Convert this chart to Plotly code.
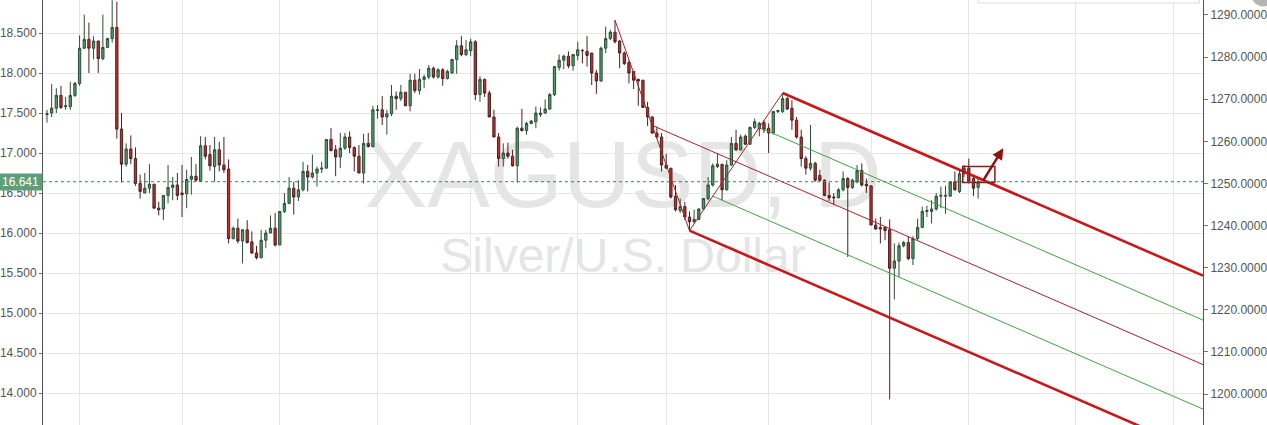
import plotly.graph_objects as go

# ---------------- data (XAGUSD daily candles) ----------------
opens = [17.48, 17.50, 17.56, 17.72, 17.58, 17.58, 17.72, 17.87, 18.31, 18.42,
         18.31, 18.40, 18.18, 18.32, 18.43, 18.57, 17.30, 16.86, 17.05, 16.93,
         16.62, 16.50, 16.56, 16.61, 16.31, 16.30, 16.47, 16.57, 16.60, 16.50,
         16.49, 16.67, 16.71, 16.65, 17.09, 16.98, 16.83, 17.04, 16.85, 16.80,
         15.93, 16.06, 15.90, 16.04, 15.89, 15.75, 15.69, 15.91, 16.00, 16.06,
         15.85, 16.27, 16.37, 16.56, 16.45, 16.54, 16.77, 16.70, 16.75, 16.80,
         16.81, 17.17, 17.04, 16.95, 17.06, 17.20, 17.07, 16.96, 16.75, 17.12,
         17.08, 17.53, 17.54, 17.45, 17.49, 17.71, 17.68, 17.76, 17.59, 17.91,
         17.78, 17.92, 17.95, 18.06, 17.95, 18.04, 17.93, 18.00, 18.17, 18.34,
         18.23, 18.28, 18.39, 17.73, 17.92, 17.75, 17.45, 17.20, 16.93, 17.00,
         16.96, 16.84, 17.31, 17.28, 17.37, 17.39, 17.48, 17.50, 17.55, 17.73,
         18.07, 18.16, 18.21, 18.09, 18.22, 18.28, 18.27, 18.25, 18.00, 17.90,
         18.31, 18.43, 18.51, 18.40, 18.25, 18.13, 18.02, 17.92, 17.91, 17.57,
         17.45, 17.25, 17.20, 16.85, 16.81, 16.46, 16.28, 16.33, 16.20, 16.14,
         16.17, 16.30, 16.43, 16.60, 16.83, 16.86, 16.54, 16.85, 17.12, 17.04,
         17.21, 17.11, 17.32, 17.30, 17.38, 17.31, 17.25, 17.52, 17.52, 17.68,
         17.56, 17.41, 17.20, 16.93, 16.81, 16.87, 16.72, 16.66, 16.47, 16.45,
         16.44, 16.54, 16.68, 16.57, 16.64, 16.78, 16.61, 16.59, 16.10, 16.07,
         16.07, 16.04, 15.56, 15.65, 15.84, 15.88, 15.68, 15.93, 16.07, 16.27,
         16.27, 16.30, 16.46, 16.46, 16.46, 16.64, 16.52, 16.74, 16.81, 16.68,
         16.57]
highs = [17.54, 17.86, 17.81, 17.84, 17.70, 17.89, 17.89, 18.47, 18.73, 18.63,
         18.46, 18.40, 18.73, 18.44, 18.91, 18.89, 17.50, 17.12, 17.22, 17.07,
         16.73, 16.75, 16.86, 16.61, 16.39, 16.47, 16.85, 16.70, 16.75, 16.85,
         16.79, 16.95, 16.86, 17.21, 17.20, 17.10, 17.20, 17.14, 17.20, 16.92,
         16.08, 16.18, 16.04, 16.16, 16.02, 15.84, 16.04, 16.04, 16.22, 16.25,
         16.27, 16.50, 16.70, 16.64, 16.66, 16.89, 16.85, 16.98, 16.83, 16.89,
         17.17, 17.31, 17.10, 17.25, 17.25, 17.27, 17.08, 17.10, 17.24, 17.25,
         17.59, 17.60, 17.71, 17.54, 17.85, 17.77, 17.85, 17.76, 17.99, 17.99,
         18.05, 17.98, 18.10, 18.08, 18.06, 18.06, 18.04, 18.17, 18.41, 18.46,
         18.41, 18.43, 18.41, 17.96, 17.93, 17.78, 17.54, 17.25, 17.12, 17.13,
         17.04, 17.33, 17.55, 17.39, 17.41, 17.58, 17.57, 17.67, 17.75, 18.08,
         18.23, 18.23, 18.27, 18.23, 18.39, 18.30, 18.46, 18.25, 18.04, 18.33,
         18.58, 18.54, 18.66, 18.41, 18.27, 18.16, 18.02, 17.93, 17.91, 17.64,
         17.46, 17.33, 17.25, 16.99, 16.81, 16.60, 16.43, 16.39, 16.27, 16.29,
         16.31, 16.43, 16.70, 16.87, 17.00, 16.86, 16.91, 17.20, 17.29, 17.23,
         17.23, 17.33, 17.43, 17.39, 17.41, 17.37, 17.52, 17.54, 17.75, 17.70,
         17.66, 17.45, 17.29, 16.96, 17.35, 16.89, 16.79, 16.67, 16.63, 16.50,
         16.56, 16.77, 16.70, 16.68, 16.85, 16.87, 16.68, 16.59, 16.18, 16.20,
         16.08, 16.17, 15.87, 15.88, 15.90, 15.96, 15.96, 16.18, 16.33, 16.34,
         16.41, 16.50, 16.58, 16.59, 16.64, 16.77, 16.80, 16.85, 16.93, 16.70,
         16.68]
lows = [17.38, 17.45, 17.50, 17.55, 17.54, 17.54, 17.70, 17.84, 18.30, 18.00,
        18.17, 18.00, 18.16, 18.32, 18.38, 17.18, 16.63, 16.83, 16.86, 16.59,
        16.43, 16.50, 16.50, 16.31, 16.22, 16.16, 16.37, 16.41, 16.41, 16.20,
        16.31, 16.48, 16.64, 16.64, 16.92, 16.78, 16.64, 16.77, 16.75, 15.87,
        15.92, 15.87, 15.62, 15.87, 15.74, 15.67, 15.69, 15.81, 16.00, 15.83,
        15.85, 16.25, 16.36, 16.23, 16.40, 16.52, 16.52, 16.68, 16.58, 16.75,
        16.81, 17.02, 16.71, 16.81, 17.04, 17.00, 16.77, 16.75, 16.62, 17.07,
        17.07, 17.43, 17.35, 17.23, 17.46, 17.54, 17.65, 17.59, 17.52, 17.75,
        17.73, 17.81, 17.92, 17.93, 17.93, 17.84, 17.92, 17.99, 17.99, 18.21,
        18.21, 18.21, 17.66, 17.64, 17.70, 17.45, 17.20, 16.83, 16.83, 16.93,
        16.83, 16.63, 17.27, 17.23, 17.36, 17.31, 17.45, 17.49, 17.54, 17.71,
        18.03, 18.05, 18.06, 18.03, 18.16, 18.12, 18.08, 17.85, 17.74, 17.89,
        18.25, 18.41, 18.37, 18.06, 18.10, 17.87, 17.80, 17.59, 17.57, 17.34,
        17.24, 17.18, 16.77, 16.81, 16.43, 16.27, 16.25, 16.16, 16.03, 16.12,
        16.16, 16.29, 16.41, 16.58, 16.81, 16.41, 16.53, 16.84, 17.03, 17.03,
        17.10, 17.10, 17.30, 17.21, 17.25, 17.00, 17.23, 17.50, 17.50, 17.54,
        17.29, 17.18, 16.83, 16.73, 16.78, 16.64, 16.64, 16.46, 16.40, 16.35,
        16.43, 16.52, 15.70, 16.55, 16.62, 16.58, 16.50, 16.10, 16.04, 15.87,
        15.91, 13.92, 15.17, 15.45, 15.82, 15.66, 15.60, 15.91, 16.06, 16.20,
        16.12, 16.28, 16.31, 16.24, 16.46, 16.53, 16.50, 16.70, 16.62, 16.46,
        16.43]
closes = [17.49, 17.56, 17.72, 17.57, 17.59, 17.72, 17.87, 18.31, 18.42, 18.31,
          18.40, 18.18, 18.32, 18.43, 18.57, 17.30, 16.86, 17.05, 16.93, 16.62,
          16.52, 16.56, 16.61, 16.31, 16.29, 16.47, 16.57, 16.60, 16.47, 16.48,
          16.67, 16.71, 16.66, 17.09, 16.96, 16.84, 17.04, 16.85, 16.79, 15.93,
          16.06, 15.90, 16.04, 15.88, 15.75, 15.69, 15.91, 16.00, 16.06, 15.85,
          16.27, 16.37, 16.56, 16.45, 16.54, 16.77, 16.70, 16.75, 16.80, 16.81,
          17.17, 17.03, 16.95, 17.06, 17.20, 17.07, 16.96, 16.75, 17.12, 17.08,
          17.54, 17.54, 17.45, 17.49, 17.71, 17.68, 17.76, 17.59, 17.91, 17.78,
          17.92, 17.95, 18.06, 17.95, 18.04, 17.93, 18.02, 18.17, 18.34, 18.23,
          18.29, 18.39, 17.73, 17.92, 17.75, 17.45, 17.20, 16.93, 17.00, 16.96,
          16.84, 17.31, 17.28, 17.37, 17.40, 17.50, 17.50, 17.55, 17.73, 18.08,
          18.16, 18.21, 18.09, 18.23, 18.29, 18.28, 18.22, 18.00, 17.90, 18.31,
          18.43, 18.51, 18.39, 18.25, 18.12, 18.00, 17.91, 17.90, 17.57, 17.45,
          17.25, 17.20, 16.85, 16.81, 16.45, 16.29, 16.33, 16.20, 16.14, 16.17,
          16.30, 16.43, 16.60, 16.84, 16.86, 16.54, 16.85, 17.12, 17.04, 17.20,
          17.11, 17.32, 17.39, 17.37, 17.29, 17.25, 17.52, 17.53, 17.68, 17.55,
          17.41, 17.20, 16.93, 16.81, 16.87, 16.66, 16.66, 16.47, 16.44, 16.44,
          16.54, 16.68, 16.57, 16.66, 16.78, 16.60, 16.59, 16.10, 16.05, 16.05,
          16.03, 15.56, 15.65, 15.84, 15.88, 15.68, 15.93, 16.07, 16.27, 16.28,
          16.30, 16.46, 16.47, 16.47, 16.64, 16.54, 16.74, 16.81, 16.64, 16.56,
          16.641]
last_price = 16.641

# first trading day of each month (candle index) -> vertical grid lines
month_starts = [7, 29, 50, 71, 91, 114, 133, 155, 177, 198, 221, 242]
left_ticks = [14.0, 14.5, 15.0, 15.5, 16.0, 16.5, 17.0, 17.5, 18.0, 18.5]
right_ticks = [1200, 1210, 1220, 1230, 1240, 1250, 1260, 1270, 1280, 1290]

# Schiff pitchfork pivots (candle index of A high, B low, C high)
pivot_a, pivot_b, pivot_c = 122, 138, 158

# ---------------- layout constants ----------------
X_RANGE = [-0.86, 248.3]
Y_RANGE = [13.6, 18.9125]
Y2_RANGE = [1192.64, 1293.56]
FONT = "Liberation Sans, Arial, sans-serif"

idx = list(range(len(closes)))

fig = go.Figure()
fig.add_trace(go.Candlestick(
    x=idx, open=opens, high=highs, low=lows, close=closes,
    increasing=dict(fillcolor="#4f9d6d", line=dict(color="#2c4d38", width=1)),
    decreasing=dict(fillcolor="#c0312f", line=dict(color="#4e1f1f", width=1)),
    whiskerwidth=0, showlegend=False, hoverinfo="skip",
))
# invisible trace to carry the right-hand axis
fig.add_trace(go.Scatter(x=[X_RANGE[0]], y=[1250], yaxis="y2", mode="markers",
                         marker=dict(opacity=0), showlegend=False, hoverinfo="skip"))

# ---------------- pitchfork geometry (from pivots) ----------------
A = (pivot_a, highs[pivot_a])
B = (pivot_b, lows[pivot_b])
C = (pivot_c, highs[pivot_c])
S = ((A[0] + B[0]) / 2, (A[1] + B[1]) / 2)
M = ((B[0] + C[0]) / 2, (B[1] + C[1]) / 2)
slope = (M[1] - S[1]) / (M[0] - S[0])
xe = X_RANGE[1]


def seg(p, q, color, width):
    fig.add_trace(go.Scatter(x=[p[0], q[0]], y=[p[1], q[1]], mode="lines",
                             line=dict(color=color, width=width),
                             showlegend=False, hoverinfo="skip"))


def ray(p, color, width):
    seg(p, (xe, p[1] + slope * (xe - p[0])), color, width)


G1 = (B[0] + 0.25 * (C[0] - B[0]), B[1] + 0.25 * (C[1] - B[1]))
G2 = (B[0] + 0.75 * (C[0] - B[0]), B[1] + 0.75 * (C[1] - B[1]))

seg(A, B, "#a8232a", 1)
seg(B, C, "#a8232a", 1)
ray(S, "#a8232a", 1)
ray(G1, "#3fa53f", 1)
ray(G2, "#3fa53f", 1)
ray(C, "#cc1518", 2.6)
ray(B, "#cc1518", 2.6)

# ---------------- shapes / annotations ----------------
shapes = [
    dict(type="line", xref="paper", x0=0, x1=1, yref="y", y0=last_price, y1=last_price,
         line=dict(color="#2e8b57", width=1, dash="dot"), layer="above"),
    dict(type="rect", xref="paper", yref="paper", x0=0.2, x1=0.8, y0=0.55, y1=0.67,
         line=dict(width=0), fillcolor="rgba(0,0,0,0)", layer="between",
         label=dict(text="XAGUSD, D", textposition="middle center",
                    font=dict(family=FONT, size=94, color="#e5e5e5"))),
    dict(type="rect", xref="paper", yref="paper", x0=0.2, x1=0.8, y0=0.36, y1=0.46,
         line=dict(width=0), fillcolor="rgba(0,0,0,0)", layer="between",
         label=dict(text="Silver/U.S. Dollar", textposition="middle center",
                    font=dict(family=FONT, size=48, color="#e5e5e5"))),
    # small drawn box near last candles
    dict(type="rect", xref="x", yref="y", x0=196.7, x1=203.6, y0=16.63, y1=16.83,
         line=dict(color="#8e1a1a", width=1.5)),
    # cut-off legend box and corner widget at the top right
    dict(type="rect", xref="paper", yref="paper", x0=0.806, x1=0.997, y0=0.993, y1=1.03,
         line=dict(color="#dddddd", width=1), fillcolor="white"),
    dict(type="circle", xref="paper", yref="paper", x0=1.042, x1=1.062, y0=0.985, y1=1.035,
         line=dict(width=0), fillcolor="#b5b5b5"),
]

annotations = [
    dict(xref="paper", x=0, xanchor="right", yref="y", y=last_price, yanchor="middle",
         text=f"{last_price:.3f}", showarrow=False, bgcolor="#5e9e78",
         font=dict(family=FONT, size=12, color="white"), width=41, height=14, borderpad=1),
    dict(x=205.4, y=17.06, ax=200.9, ay=16.64, xref="x", yref="y", axref="x", ayref="y",
         text="", showarrow=True, arrowhead=2, arrowsize=0.9, arrowwidth=2.5,
         arrowcolor="#8e1212"),
]

fig.update_layout(
    width=1267, height=425,
    margin=dict(l=43, r=64, t=0, b=0, autoexpand=False),
    paper_bgcolor="white", plot_bgcolor="white",
    font=dict(family=FONT, size=12, color="#555555"),
    shapes=shapes, annotations=annotations,
    xaxis=dict(range=X_RANGE, rangeslider=dict(visible=False), showticklabels=False,
               tickvals=month_starts, showgrid=True, gridcolor="#e6e6e6", gridwidth=1,
               zeroline=False, showline=False, ticks=""),
    yaxis=dict(range=Y_RANGE, tickvals=left_ticks, tickformat=".3f", showgrid=True,
               gridcolor="#e6e6e6", zeroline=False, showline=True, linecolor="#555555",
               linewidth=1, ticks="outside", ticklen=3, tickcolor="#777777",
               tickfont=dict(family=FONT, size=12, color="#555555"), automargin=False),
    yaxis2=dict(range=Y2_RANGE, overlaying="y", side="right", tickvals=right_ticks,
                tickformat=".4f", showgrid=False, zeroline=False, showline=True,
                linecolor="#555555", linewidth=1, ticks="outside", ticklen=4,
                tickcolor="#777777", tickfont=dict(family=FONT, size=12, color="#555555"),
                automargin=False),
    showlegend=False,
)

fig.write_html(
    "out.html",
    config={"displayModeBar": False},
    post_script="document.body.style.margin='0';document.body.style.overflow='hidden';",
)
